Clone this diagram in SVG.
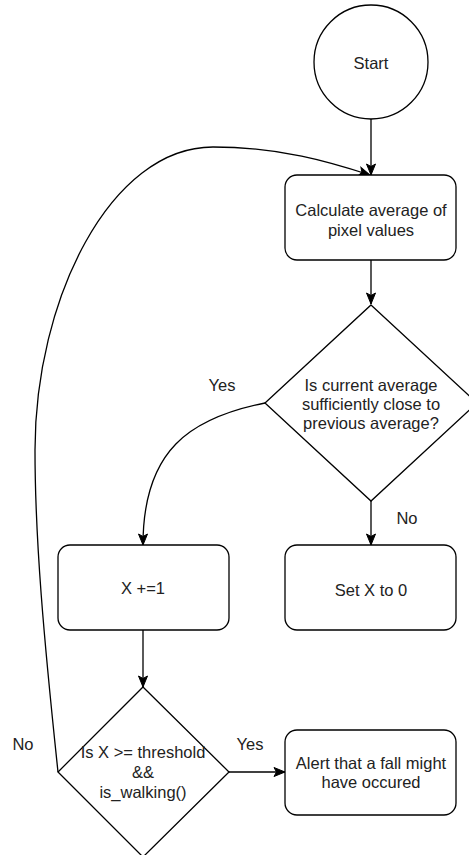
<svg xmlns="http://www.w3.org/2000/svg" width="469" height="855" viewBox="0 0 469 855">
<defs>
<marker id="arr" markerUnits="userSpaceOnUse" markerWidth="14" markerHeight="14" viewBox="0 0 14 14" refX="12" refY="7" orient="auto">
<path d="M1,2.5 L12,7 L1,11.5 L3.5,7 Z" fill="#000" stroke="#000" stroke-width="1"/>
</marker>
<style>
.n{fill:#fff;stroke:#000;stroke-width:1.3}
.t{font-family:"Liberation Sans",Arial,sans-serif;font-size:16.5px;fill:#222;text-anchor:middle}
.e{fill:none;stroke:#000;stroke-width:1.3;marker-end:url(#arr)}
</style>
</defs>
<rect width="469" height="855" fill="#fff"/>
<g id="connectors">
<path class="e" d="M371,119 L371,175"/>
<path class="e" d="M371,260 L371,304"/>
<path class="e" d="M371,501 L371,545"/>
<path class="e" d="M265,403 C190,418 143,450 143,545"/>
<path class="e" d="M143,630 L143,687"/>
<path class="e" d="M229,772 L285,772"/>
<path class="e" d="M58,772 C44,640 35,540 35,450 C35,300 110,147 213,147 C280,147 330,162 370,175"/>
<text class="t" x="222" y="391">Yes</text>
<text class="t" x="407" y="524">No</text>
<text class="t" x="250" y="750">Yes</text>
<text class="t" x="23" y="750">No</text>
</g>
<g id="start">
<circle class="n" cx="371" cy="62" r="57"/>
<text class="t" x="371" y="69">Start</text>
</g>
<g id="calc">
<rect class="n" x="285" y="175" width="171" height="85" rx="12"/>
<text class="t" x="371" y="216">Calculate average of</text>
<text class="t" x="371" y="236">pixel values</text>
</g>
<g id="dec1">
<path class="n" d="M371,305 L477,403 L371,501 L265,403 Z"/>
<text class="t" x="371" y="391">Is current average</text>
<text class="t" x="371" y="410">sufficiently close to</text>
<text class="t" x="371" y="429">previous average?</text>
</g>
<g id="inc">
<rect class="n" x="58" y="545" width="171" height="85" rx="12"/>
<text class="t" x="143" y="594">X +=1</text>
</g>
<g id="reset">
<rect class="n" x="285" y="545" width="171" height="85" rx="12"/>
<text class="t" x="371" y="596">Set X to 0</text>
</g>
<g id="dec2">
<path class="n" d="M143,687 L229,772 L143,857 L58,772 Z"/>
<text class="t" x="143" y="758">Is X &gt;= threshold</text>
<text class="t" x="143" y="778">&amp;&amp;</text>
<text class="t" x="143" y="798">is_walking()</text>
</g>
<g id="alert">
<rect class="n" x="285" y="730" width="171" height="85" rx="12"/>
<text class="t" x="371" y="769">Alert that a fall might</text>
<text class="t" x="371" y="788">have occured</text>
</g>
</svg>
